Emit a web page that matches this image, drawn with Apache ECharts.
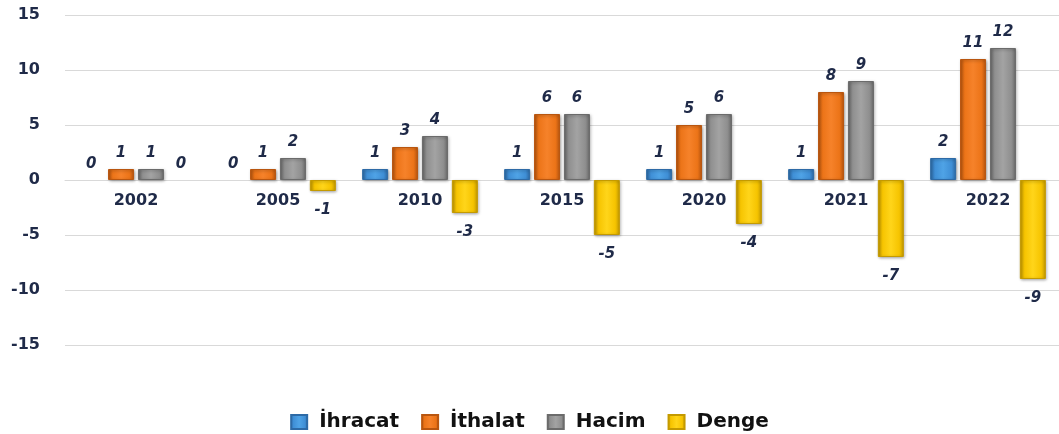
<!DOCTYPE html>
<html>
<head>
<meta charset="utf-8">
<script src="https://cdn.jsdelivr.net/npm/echarts@6/dist/echarts.min.js"></script>
<style>
  html, body { margin: 0; padding: 0; background: #fff; }
  #chart { width: 1059px; height: 434px; }
</style>
</head>
<body>
<div id="chart"></div>
<script>
// data
const years = ["2002", "2005", "2010", "2015", "2020", "2021", "2022"];
const ihracat = [0, 0, 1, 1, 1, 1, 2];
const ithalat = [1, 1, 3, 6, 5, 8, 11];
const hacim = [1, 2, 4, 6, 6, 9, 12];
const denge = [0, -1, -3, -5, -4, -7, -9];
const yTicks = { min: -15, max: 15, interval: 5 };

const textColor = "#1f2a48";
const font = "DejaVu Sans";

// bevel-ish look: darker edges, lighter middle
function bevel(edge, mid, light) {
  return {
    type: "linear", x: 0, y: 0, x2: 1, y2: 0,
    colorStops: [
      { offset: 0, color: edge },
      { offset: 0.18, color: mid },
      { offset: 0.5, color: light },
      { offset: 0.82, color: mid },
      { offset: 1, color: edge },
    ],
  };
}

const palette = {
  ihracat: { edge: "#2d6aa6", mid: "#3f8fd6", light: "#4fa3e6", solid: "#3f8fd6" },
  ithalat: { edge: "#b9560f", mid: "#ec7418", light: "#f6822a", solid: "#ec7418" },
  hacim: { edge: "#6b6b6b", mid: "#8f8f8f", light: "#a3a3a3", solid: "#8f8f8f" },
  denge: { edge: "#c49a00", mid: "#f6c400", light: "#ffd51a", solid: "#f6c400" },
};

function makeSeries(name, values, pal, negative) {
  return {
    name: name,
    type: "bar",
    barWidth: 26,
    barGap: "15%",
    data: values.map(v => {
      if (v === 0) {
        // zero values: no visible bar, label sits above the zero line
        return {
          value: v,
          itemStyle: { color: "rgba(0,0,0,0)", borderWidth: 0, shadowBlur: 0, shadowOffsetX: 0, shadowOffsetY: 0 },
          label: { position: "top", distance: 8 },
        };
      }
      return v;
    }),
    itemStyle: {
      color: bevel(pal.edge, pal.mid, pal.light),
      borderColor: pal.edge,
      borderWidth: 1,
      shadowColor: "rgba(0,0,0,0.35)",
      shadowBlur: 3,
      shadowOffsetX: 1,
      shadowOffsetY: 1,
    },
    label: {
      show: true,
      position: negative ? "bottom" : "top",
      distance: negative ? 12 : 8,
      color: textColor,
      fontFamily: font,
      fontStyle: "italic",
      fontWeight: "bold",
      fontSize: 15,
    },
  };
}

const chart = echarts.init(document.getElementById("chart"), null, { renderer: "canvas" });

chart.setOption({
  animation: false,
  color: [palette.ihracat.solid, palette.ithalat.solid, palette.hacim.solid, palette.denge.solid],
  grid: { left: 65, right: -10, top: 15, bottom: 89, containLabel: false },
  legend: {
    top: 407,
    left: "center",
    icon: "rect",
    itemWidth: 16,
    itemHeight: 14,
    itemGap: 22,
    textStyle: {
      color: "#111",
      fontFamily: font,
      fontWeight: "bold",
      fontSize: 20,
      padding: [0, 0, 0, 7],
    },
  },
  xAxis: {
    type: "category",
    data: years,
    // put the category axis (and its labels) on the zero line
    offset: -165,
    axisLine: { onZero: false, lineStyle: { color: "#d9d9d9", width: 1 } },
    axisTick: { show: false },
    axisLabel: {
      color: textColor,
      fontFamily: font,
      fontWeight: "bold",
      fontSize: 16,
      margin: 13,
    },
  },
  yAxis: {
    type: "value",
    min: yTicks.min,
    max: yTicks.max,
    interval: yTicks.interval,
    axisLine: { show: false },
    axisTick: { show: false },
    splitLine: { lineStyle: { color: "#d9d9d9", width: 1 } },
    axisLabel: {
      color: textColor,
      fontFamily: font,
      fontWeight: "bold",
      fontSize: 16,
      margin: 25,
    },
  },
  series: [
    makeSeries("İhracat", ihracat, palette.ihracat, false),
    makeSeries("İthalat", ithalat, palette.ithalat, false),
    makeSeries("Hacim", hacim, palette.hacim, false),
    makeSeries("Denge", denge, palette.denge, true),
  ],
});
</script>
</body>
</html>
